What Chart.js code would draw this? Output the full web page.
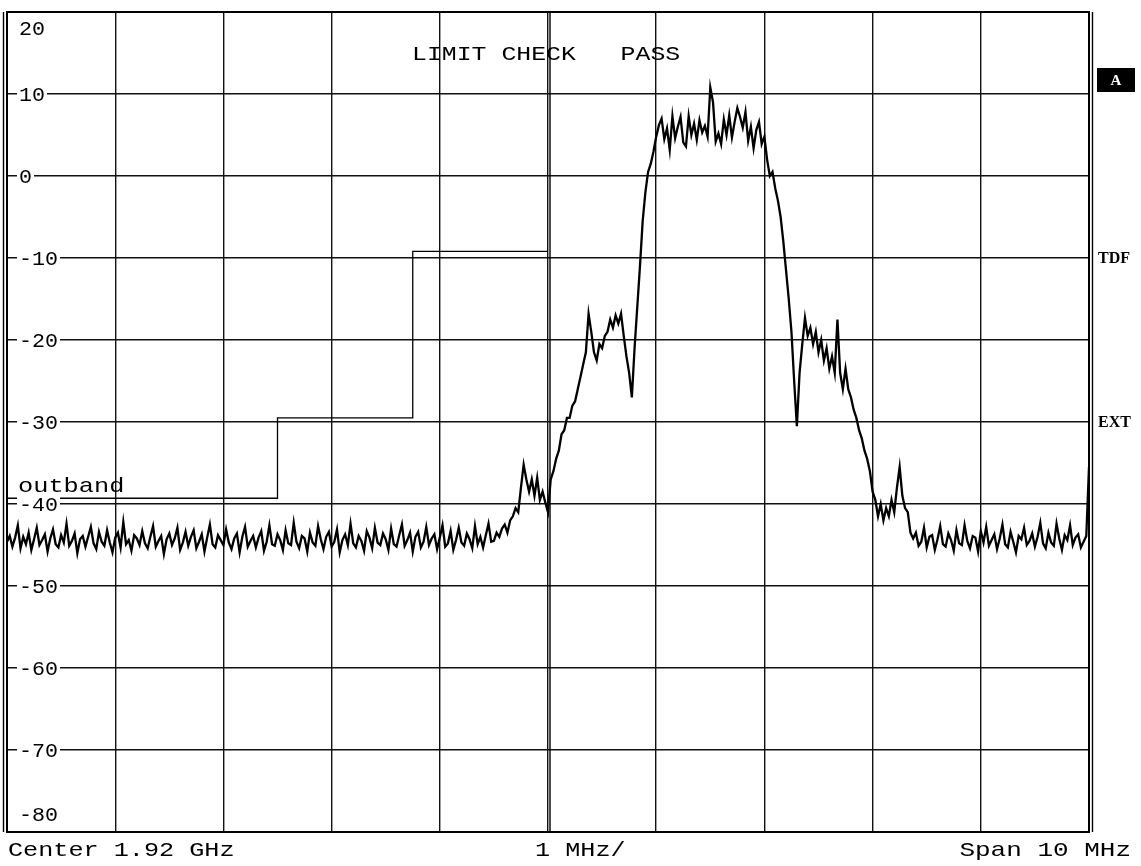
<!DOCTYPE html>
<html>
<head>
<meta charset="utf-8">
<title>Spectrum – limit check</title>
<script src="https://cdn.jsdelivr.net/npm/chart.js@4.4.1/dist/chart.umd.min.js"></script>
<style>
  html, body { margin: 0; padding: 0; background: #fff; }
  #wrap { width: 1141px; height: 866px; }
</style>
</head>
<body>
<div id="wrap"><canvas id="spec" width="1141" height="866"></canvas></div>
<script>
// Sweep: centre 1.92 GHz, span 10 MHz, frequency axis as offset from centre (MHz)
const sweepStartMHz = -5;
const sweepStopMHz = 5;

// Level axis (dBm) and its printed tick labels
const levelTicks = [20, 10, 0, -10, -20, -30, -40, -50, -60, -70, -80];

// Trace levels (dBm): noise floor below the carrier, the carrier itself, noise floor above
const floorBelow = [
  -44.6,-43.9,-45.2,-44.1,-42.6,-45.4,-44.0,-44.9,-43.5,-45.6,
  -44.3,-42.9,-45.0,-44.4,-43.7,-45.8,-44.2,-43.1,-44.9,-45.3,
  -43.8,-44.7,-42.4,-45.1,-44.5,-43.6,-46.0,-44.3,-43.9,-45.2,
  -44.0,-42.8,-44.8,-45.5,-43.4,-44.6,-45.1,-43.2,-44.7,-45.9,
  -44.1,-43.5,-45.3,-42.2,-44.9,-44.4,-45.7,-43.8,-44.2,-45.0,
  -43.3,-44.8,-45.4,-44.0,-42.7,-45.2,-44.5,-43.9,-46.1,-44.3,
  -43.6,-45.0,-44.2,-42.9,-45.6,-44.7,-43.4,-45.1,-44.0,-43.2,
  -45.4,-44.6,-43.7,-45.8,-44.1,-42.5,-44.9,-45.3,-43.8,-44.4,
  -45.0,-43.1,-44.7,-45.5,-44.2,-43.6,-45.9,-44.0,-42.8,-45.2,
  -44.5,-43.9,-45.3,-44.1,-43.3,-45.7,-44.6,-42.6,-44.9,-45.1,
  -43.7,-44.4,-45.6,-43.2,-44.8,-45.0,-42.3,-44.6,-45.4,-43.9,
  -44.2,-45.8,-43.5,-44.7,-45.1,-42.7,-44.3,-45.5,-44.0,-43.4,
  -45.2,-44.6,-43.1,-45.9,-44.4,-43.7,-45.0,-42.4,-44.8,-45.3,
  -43.9,-44.5,-45.7,-43.3,-44.1,-45.4,-42.9,-44.7,-45.0,-43.6,
  -44.3,-45.6,-43.0,-44.9,-45.2,-43.8,-42.5,-45.1,-44.4,-43.5,
  -45.8,-44.0,-43.4,-45.3,-44.6,-42.8,-45.0,-44.2,-43.7,-45.5,
  -44.1,-42.6,-45.2,-44.8,-43.3,-45.6,-44.4,-42.9,-44.7,-45.1,
  -43.6,-44.3,-45.4,-42.7,-44.9,-44.0,-45.3,-43.8,-42.4,-44.6,
  -44.5
];
const carrierLevels = [
  -43.5,-44,-43,-42.5,-43.5,-42,-41.5,-40.5,-41,-38,
  -35.2,-37,-38.5,-37,-39,-36.8,-39.5,-38.5,-39.8,-41,
  -37,-36,-34.5,-33.5,-31.5,-31,-29.5,-29.5,-28,-27.5,
  -26,-24.5,-23,-21.5,-16.8,-19,-21.5,-22.5,-20.5,-21,
  -19.5,-19,-17.5,-18.5,-17,-18,-16.8,-19.5,-22,-24,
  -27,-21,-16,-11,-5.5,-2,0.5,1.5,3,4.8,
  6.2,7.0,4.5,5.8,3.2,7.3,4.6,6.0,7.2,4.1,
  3.6,7.3,5.0,6.4,4.4,6.8,5.3,6.1,4.8,10.8,
  9.0,4.2,5.2,3.9,6.9,5.0,7.4,4.7,6.6,8.3,
  7.2,5.9,7.8,4.3,6.0,3.4,5.6,6.6,3.9,4.8,
  2.0,0,0.5,-1.5,-3,-5,-8,-11.5,-15,-19,
  -25,-30.5,-24,-20.5,-17.3,-19.5,-18.5,-20.5,-19,-21.5,
  -20,-22.5,-21,-23.5,-22,-24,-17.5,-24,-26,-23.5,
  -26,-27,-28.5,-29.5,-31,-32,-33.5,-34.5,-36,-38.5,
  -39.5,-41.5,-40,-42,-40.5,-41.5,-39.5,-41,-38,-35.5,
  -39,-40.5,-41,-43.5
];
const floorAbove = [
  -44.2,-43.5,-45.1,-44.6,-42.9,-45.3,-44.0,-43.8,-45.6,-44.3,
  -42.7,-44.9,-45.2,-43.6,-44.4,-45.7,-43.2,-44.8,-45.0,-42.6,
  -44.5,-45.4,-43.9,-44.1,-45.8,-43.3,-44.7,-42.8,-45.1,-44.4,
  -43.7,-45.5,-44.2,-42.5,-44.9,-45.3,-43.4,-44.6,-45.9,-43.9,
  -44.3,-42.9,-45.0,-44.5,-43.6,-45.2,-44.0,-42.3,-44.8,-45.4,
  -43.5,-44.7,-45.1,-42.4,-44.2,-45.6,-43.8,-44.4,-42.6,-45.0,
  -44.1,-43.7,-45.3,-44.6,-43.9,-35.5
];

// Out-of-band limit line: corner frequencies (MHz) and levels (dBm)
const limitFreqs = [-5, -2.5, -2.5, -1.25, -1.25, 0];
const limitLevels = [-39.3, -39.3, -29.5, -29.5, -9.2, -9.2];

// Screen annotations
const headerText = 'LIMIT CHECK   PASS';
const limitName = 'outband';
const footerLeft = 'Center 1.92 GHz';
const footerMid = '1 MHz/';
const footerRight = 'Span 10 MHz';
const sideFlags = ['TDF', 'EXT'];
const traceFlag = 'A';

const traceLevels = [...floorBelow, ...carrierLevels, ...floorAbove];
const stepMHz = (sweepStopMHz - sweepStartMHz) / (traceLevels.length - 1);
const tracePoints = traceLevels.map((v, i) => ({ x: sweepStartMHz + i * stepMHz, y: v }));
const limitPoints = limitFreqs.map((f, i) => ({ x: f, y: limitLevels[i] }));

const MONO = '"Liberation Mono", "DejaVu Sans Mono", monospace';

// draw monospace text widened to a given character pitch
function wideText(ctx, str, x, baseline, size, pitch, align) {
  ctx.font = size + 'px ' + MONO;
  const natural = ctx.measureText(str).width;
  const sx = (pitch * str.length) / natural;
  const w = natural * sx;
  let x0 = x;
  if (align === 'right') x0 = x - w;
  else if (align === 'center') x0 = x - w / 2;
  ctx.save();
  ctx.translate(x0, baseline);
  ctx.scale(sx, 1);
  ctx.textAlign = 'left';
  ctx.textBaseline = 'alphabetic';
  ctx.fillText(str, 0, 0);
  ctx.restore();
  return { left: x0, width: w };
}

const screenPlugin = {
  id: 'analyzerScreen',
  afterDraw(chart) {
    const { ctx, chartArea: a, scales } = chart;
    const xs = scales.x, ys = scales.y;
    ctx.save();
    ctx.strokeStyle = '#000';
    ctx.fillStyle = '#000';

    // frame and doubled rules
    ctx.lineWidth = 2;
    ctx.strokeRect(a.left, a.top, a.right - a.left, a.bottom - a.top);
    ctx.lineWidth = 1.4;
    const xc = xs.getPixelForValue(0);
    [[a.left - 3.5], [a.right + 3.5], [xc + 2]].forEach(([px]) => {
      ctx.beginPath();
      ctx.moveTo(px, a.top);
      ctx.lineTo(px, a.bottom);
      ctx.stroke();
    });

    // level labels along the left edge
    const labelSize = 20, labelPitch = 13, labelX = 19;
    levelTicks.forEach((v) => {
      const py = ys.getPixelForValue(v);
      const txt = String(v);
      let base;
      if (v === levelTicks[0]) base = py + 23;
      else if (v === levelTicks[levelTicks.length - 1]) base = py - 11;
      else {
        base = py + 6.5;
        ctx.fillStyle = '#fff';
        ctx.fillRect(labelX - 2, py - 8, txt.length * labelPitch + 4, 16);
        ctx.fillStyle = '#000';
      }
      wideText(ctx, txt, labelX, base, labelSize, labelPitch, 'left');
    });

    // limit line name
    wideText(ctx, limitName, 18, 492, 21, 15.2, 'left');

    // header
    wideText(ctx, headerText, 412, 60, 20, 14.9, 'left');

    // footer
    wideText(ctx, footerLeft, 8, 856, 21, 15.1, 'left');
    wideText(ctx, footerMid, 535, 856, 21, 15.1, 'left');
    wideText(ctx, footerRight, 1131, 856, 21, 15.6, 'right');

    // right-hand status flags
    ctx.fillStyle = '#000';
    ctx.fillRect(1097, 68, 38, 24);
    ctx.font = 'bold 15px "Liberation Serif", "DejaVu Serif", serif';
    ctx.textAlign = 'center';
    ctx.textBaseline = 'middle';
    ctx.fillStyle = '#fff';
    ctx.fillText(traceFlag, 1116, 81);
    ctx.fillStyle = '#000';
    ctx.textAlign = 'left';
    ctx.font = 'bold 16px "Liberation Serif", "DejaVu Serif", serif';
    ctx.fillText(sideFlags[0], 1098, ys.getPixelForValue(-10) + 1);
    ctx.fillText(sideFlags[1], 1098, ys.getPixelForValue(-30) + 1);
    ctx.restore();
  }
};

const gridStyle = { color: '#111', lineWidth: 1.4, drawTicks: false };

new Chart(document.getElementById('spec'), {
  type: 'line',
  data: {
    datasets: [
      {
        label: 'Trace A',
        data: tracePoints,
        borderColor: '#000',
        borderWidth: 2.3,
        pointRadius: 0,
        tension: 0,
        order: 1
      },
      {
        label: 'Limit',
        data: limitPoints,
        borderColor: '#000',
        borderWidth: 1.3,
        pointRadius: 0,
        tension: 0,
        order: 2
      }
    ]
  },
  options: {
    responsive: false,
    animation: false,
    devicePixelRatio: 1,
    layout: { padding: { left: 7, right: 52, top: 12, bottom: 34 } },
    plugins: { legend: { display: false }, tooltip: { enabled: false } },
    scales: {
      x: {
        type: 'linear',
        min: sweepStartMHz,
        max: sweepStopMHz,
        ticks: { display: false, stepSize: 1 },
        grid: gridStyle,
        border: { display: false },
        afterFit(s) { s.height = 0; }
      },
      y: {
        type: 'linear',
        min: levelTicks[levelTicks.length - 1],
        max: levelTicks[0],
        ticks: { display: false, stepSize: 10 },
        grid: gridStyle,
        border: { display: false },
        afterFit(s) { s.width = 0; }
      }
    }
  },
  plugins: [screenPlugin]
});
</script>
</body>
</html>
